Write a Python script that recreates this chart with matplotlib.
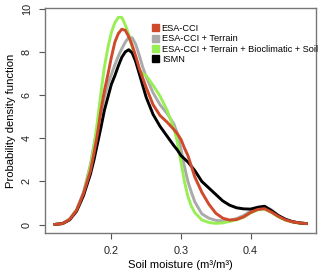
# Soil moisture density curves (ESA-CCI variants vs ISMN)

import matplotlib
matplotlib.use("Agg")
import matplotlib.pyplot as plt
from matplotlib.patches import Patch

plt.rcParams['font.family'] = ['Liberation Sans', 'DejaVu Sans']

# values
sm = [0.119, 0.13, 0.14, 0.15, 0.16, 0.17, 0.175, 0.18, 0.185, 0.19, 0.195,
      0.20, 0.205, 0.21, 0.215, 0.22, 0.225, 0.23, 0.235, 0.24, 0.245, 0.25,
      0.26, 0.27, 0.28, 0.29, 0.295, 0.30, 0.305, 0.31, 0.315, 0.32, 0.33,
      0.34, 0.35, 0.36, 0.37, 0.38, 0.39, 0.40, 0.41, 0.42, 0.43, 0.44,
      0.45, 0.46, 0.47, 0.48]

esa_cci = [0.01, 0.05, 0.24, 0.66, 1.45, 2.5, 3.3, 4.2, 5.3, 6.2, 6.95,
           7.75, 8.45, 8.85, 9.05, 9.0, 8.7, 8.3, 7.8, 7.25, 6.8, 6.35,
           5.55, 5.05, 4.75, 4.4, 4.2, 3.95, 3.55, 3.2, 2.7, 2.2, 1.5,
           0.95, 0.53, 0.3, 0.21, 0.24, 0.36, 0.56, 0.7, 0.74, 0.58, 0.38,
           0.22, 0.13, 0.08, 0.05]

esa_terrain = [0.01, 0.05, 0.26, 0.7, 1.5, 2.8, 3.7, 4.5, 5.2, 5.9, 6.5,
               6.95, 7.4, 7.8, 8.15, 8.45, 8.68, 8.65, 8.35, 7.85, 7.3, 6.85,
               6.1, 5.55, 5.15, 4.65, 4.2, 3.5, 2.7, 2.0, 1.5, 1.05, 0.5,
               0.3, 0.2, 0.17, 0.2, 0.28, 0.42, 0.63, 0.8, 0.85, 0.68, 0.42,
               0.25, 0.14, 0.08, 0.05]

esa_full = [0.01, 0.05, 0.25, 0.68, 1.4, 2.7, 3.6, 4.8, 6.1, 7.3, 8.2,
            8.9, 9.35, 9.6, 9.6, 9.25, 8.8, 8.2, 7.6, 7.15, 7.0, 6.9,
            6.45, 5.95, 5.3, 4.45, 3.8, 2.9, 2.0, 1.3, 0.85, 0.55, 0.22,
            0.1, 0.06, 0.08, 0.15, 0.22, 0.34, 0.54, 0.68, 0.72, 0.56, 0.36,
            0.21, 0.12, 0.07, 0.05]

ismn = [0.01, 0.05, 0.22, 0.62, 1.35, 2.35, 3.0, 3.75, 4.5, 5.3, 5.9,
        6.5, 6.9, 7.35, 7.75, 8.0, 8.1, 7.95, 7.55, 7.0, 6.45, 5.9,
        5.1, 4.55, 4.1, 3.65, 3.45, 3.2, 3.05, 2.9, 2.7, 2.5, 2.0,
        1.7, 1.4, 1.1, 0.9, 0.78, 0.73, 0.72, 0.8, 0.85, 0.65, 0.42,
        0.25, 0.14, 0.08, 0.05]

labels = ['ESA-CCI', 'ESA-CCI + Terrain',
          'ESA-CCI + Terrain + Bioclimatic + Soil', 'ISMN']
colors = ['#cf4a2c', '#aaaaaa', '#99ee55', '#000000']

fig = plt.figure(figsize=(3.2, 2.76), dpi=100)
ax = fig.add_axes([0.1406, 0.156, 0.8454, 0.814])

ax.plot(sm, esa_terrain, color=colors[1], lw=2.1)
ax.plot(sm, esa_full, color=colors[2], lw=2.1)
ax.plot(sm, ismn, color=colors[3], lw=2.1)
ax.plot(sm, esa_cci, color=colors[0], lw=2.1)

ax.set_xlim(0.1046, 0.4934)
ax.set_ylim(-0.385, 10.02)
ax.set_xticks([0.2, 0.3, 0.4])
ax.set_xticklabels(['0.2', '0.3', '0.4'])
ax.set_yticks([0, 2, 4, 6, 8, 10])
for lab in ax.get_yticklabels():
    lab.set_rotation(90)
    lab.set_va('center')
ax.tick_params(direction='out', length=4.5, width=0.8, colors='#555555',
               labelcolor='#222222', labelsize=7.8, pad=5)
for s in ax.spines.values():
    s.set_color('#777777')
    s.set_linewidth(1.0)

ax.set_xlabel('Soil moisture (m³/m³)', fontsize=8.1, labelpad=3)
ax.set_ylabel('Probability density function', fontsize=8.1, labelpad=4)

handles = [Patch(color=c) for c in colors]
ax.legend(handles, labels, loc='upper left', bbox_to_anchor=(0.394, 0.93),
          frameon=False, fontsize=6.6, handlelength=0.8, handleheight=0.8,
          handletextpad=0.3, labelspacing=0.15, borderpad=0, borderaxespad=0)

fig.savefig('out.png', dpi=100)
